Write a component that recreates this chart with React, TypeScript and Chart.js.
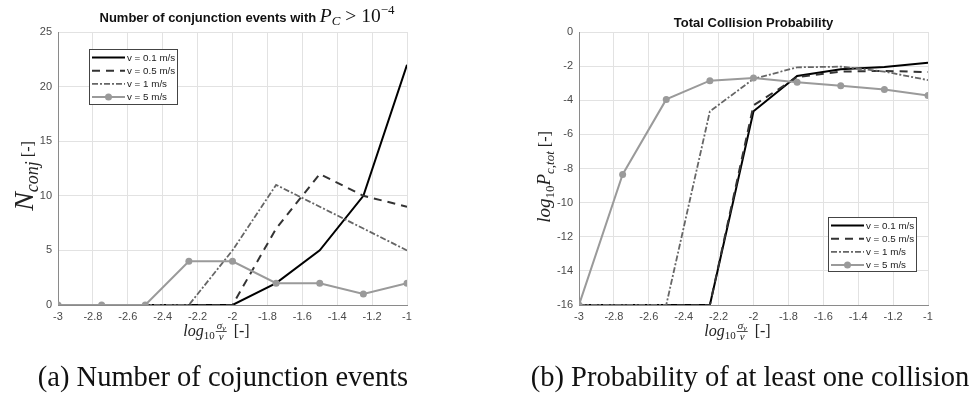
import React, { useEffect, useRef } from "react";
import { Chart, registerables } from "chart.js";
Chart.register(...registerables);

// ---------- data ----------
const xValues = [-3, -2.75, -2.5, -2.25, -2, -1.75, -1.5, -1.25, -1];
const seriesLabels = ["v = 0.1 m/s", "v = 0.5 m/s", "v = 1 m/s", "v = 5 m/s"];

const nConjV01 = [0, 0, 0, 0, 0, 2, 5, 10, 22];
const nConjV05 = [0, 0, 0, 0, 0, 7, 12, 10, 9];
const nConjV1 = [0, 0, 0, 0, 5, 11, 9, 7, 5];
const nConjV5 = [0, 0, 0, 4, 4, 2, 2, 1, 2];

const pTotV01 = [-16, -16, -16, -16, -4.65, -2.58, -2.18, -2.05, -1.8];
const pTotV05 = [-16, -16, -16, -16, -4.3, -2.65, -2.32, -2.28, -2.35];
const pTotV1 = [-16, -16, -16, -4.65, -2.75, -2.07, -2.03, -2.32, -2.82];
const pTotV5 = [-16, -8.35, -3.95, -2.85, -2.7, -2.95, -3.15, -3.37, -3.72];

const xTickMin = -3;
const xTickMax = -1;
const xTickStep = 0.2;
const leftYTicks = { min: 0, max: 25, step: 5 };
const rightYTicks = { min: -16, max: 0, step: 2 };

const captionA = "(a) Number of cojunction events";
const captionB = "(b) Probability of at least one collision";

// ---------- styles ----------
const lineColors = ["#000000", "#333333", "#666666", "#9a9a9a"];
const lineWidths = [2, 2, 1.8, 2];
const lineDashes: number[][] = [[], [8, 6], [6, 2, 2, 2], []];
const pointRadii = [0, 0, 0, 3.5];

const CW = 486;
const CH = 399;
const SERIF = '"Liberation Serif", "DejaVu Serif", serif';
const SANS = '"Liberation Sans", Arial, sans-serif';

type Seg = { t: string; f: string; dy?: number };

function segWidth(ctx: CanvasRenderingContext2D, segs: Seg[]) {
  let w = 0;
  for (const s of segs) {
    ctx.font = s.f;
    w += ctx.measureText(s.t).width;
  }
  return w;
}
function drawSegs(ctx: CanvasRenderingContext2D, segs: Seg[], x: number, y: number) {
  let cx = x;
  for (const s of segs) {
    ctx.font = s.f;
    ctx.fillText(s.t, cx, y + (s.dy || 0));
    cx += ctx.measureText(s.t).width;
  }
  return cx;
}

function drawXTitle(ctx: CanvasRenderingContext2D, cx: number, baseline: number) {
  const pre: Seg[] = [
    { t: "log", f: `italic 16px ${SERIF}` },
    { t: "10", f: `11px ${SERIF}`, dy: 3 },
  ];
  const num: Seg[] = [
    { t: "σ", f: `italic 11px ${SERIF}` },
    { t: "v", f: `italic 8px ${SERIF}`, dy: 2 },
  ];
  const den: Seg[] = [{ t: "v", f: `italic 11px ${SERIF}` }];
  const post: Seg[] = [{ t: "[-]", f: `16px ${SERIF}` }];
  const wPre = segWidth(ctx, pre);
  const wNum = segWidth(ctx, num);
  const wDen = segWidth(ctx, den);
  const barW = Math.max(wNum, wDen) + 2;
  const gap = 7;
  const wPost = segWidth(ctx, post);
  const total = wPre + 1 + barW + gap + wPost;
  let x = cx - total / 2;
  ctx.fillStyle = "#222";
  ctx.textBaseline = "alphabetic";
  ctx.textAlign = "left";
  x = drawSegs(ctx, pre, x, baseline) + 1;
  const barY = baseline - 4.5;
  ctx.strokeStyle = "#222";
  ctx.lineWidth = 0.8;
  ctx.setLineDash([]);
  ctx.beginPath();
  ctx.moveTo(x, barY);
  ctx.lineTo(x + barW, barY);
  ctx.stroke();
  drawSegs(ctx, num, x + (barW - wNum) / 2, barY - 2.5);
  drawSegs(ctx, den, x + (barW - wDen) / 2, barY + 8.5);
  x += barW + gap;
  drawSegs(ctx, post, x, baseline);
}

function drawRotated(ctx: CanvasRenderingContext2D, segs: Seg[], bx: number, cy: number) {
  ctx.save();
  ctx.translate(bx, cy);
  ctx.rotate(-Math.PI / 2);
  ctx.fillStyle = "#222";
  ctx.textBaseline = "alphabetic";
  ctx.textAlign = "left";
  const w = segWidth(ctx, segs);
  drawSegs(ctx, segs, -w / 2, 0);
  ctx.restore();
}

function makeLegendPlugin(box: { x: number; y: number; w: number; h: number }) {
  return {
    id: "customLegend",
    afterDatasetsDraw(chart: any) {
      const ctx: CanvasRenderingContext2D = chart.ctx;
      ctx.save();
      ctx.fillStyle = "#ffffff";
      ctx.fillRect(box.x, box.y, box.w, box.h);
      ctx.strokeStyle = "#444";
      ctx.lineWidth = 1;
      ctx.setLineDash([]);
      ctx.strokeRect(box.x + 0.5, box.y + 0.5, box.w, box.h);
      chart.data.datasets.forEach((ds: any, i: number) => {
        const ry = box.y + 8.5 + i * 13.2;
        ctx.strokeStyle = ds.borderColor;
        ctx.lineWidth = ds.borderWidth;
        ctx.setLineDash(ds.borderDash || []);
        ctx.beginPath();
        ctx.moveTo(box.x + 3, ry);
        ctx.lineTo(box.x + 36, ry);
        ctx.stroke();
        ctx.setLineDash([]);
        if (ds.pointRadius > 0) {
          ctx.fillStyle = ds.borderColor;
          ctx.beginPath();
          ctx.arc(box.x + 19.5, ry, ds.pointRadius, 0, Math.PI * 2);
          ctx.fill();
        }
        ctx.fillStyle = "#222";
        ctx.font = `9.8px ${SANS}`;
        ctx.textBaseline = "middle";
        ctx.textAlign = "left";
        ctx.fillText(ds.label, box.x + 38, ry + 0.5);
      });
      ctx.restore();
    },
  };
}

function buildDatasets(series: number[][]) {
  return series.map((vals, i) => ({
    label: seriesLabels[i],
    data: vals.map((v, j) => ({ x: xValues[j], y: v })),
    borderColor: lineColors[i],
    backgroundColor: lineColors[i],
    borderWidth: lineWidths[i],
    borderDash: lineDashes[i],
    pointRadius: pointRadii[i],
    pointBackgroundColor: lineColors[i],
    pointBorderWidth: 0,
    pointHoverRadius: pointRadii[i],
    tension: 0,
    fill: false,
    order: series.length - i,
  }));
}

function makeConfig(
  series: number[][],
  yT: { min: number; max: number; step: number },
  yAxisWidth: number,
  rightPad: number,
  plugins: any[]
): any {
  const tickFont = { family: "Liberation Sans", size: 11 };
  return {
    type: "line",
    data: { datasets: buildDatasets(series) },
    options: {
      animation: false,
      responsive: false,
      events: [],
      layout: { padding: { left: 0, right: rightPad, top: 32, bottom: 0 } },
      plugins: { legend: { display: false }, tooltip: { enabled: false }, title: { display: false } },
      scales: {
        x: {
          type: "linear",
          min: xTickMin,
          max: xTickMax,
          ticks: {
            stepSize: xTickStep,
            font: tickFont,
            color: "#4a4a4a",
            padding: 5,
            maxRotation: 0,
            autoSkip: false,
            callback: (v: number) => String(Number(v.toFixed(1))),
          },
          grid: { color: "#e2e2e2", drawTicks: false },
          border: { color: "#8a8a8a", width: 1 },
          afterFit: (s: any) => {
            s.height = CH - 305;
          },
        },
        y: {
          type: "linear",
          min: yT.min,
          max: yT.max,
          ticks: { stepSize: yT.step, font: tickFont, color: "#4a4a4a", padding: 6 },
          grid: { color: "#e2e2e2", drawTicks: false },
          border: { color: "#8a8a8a", width: 1 },
          afterFit: (s: any) => {
            s.width = yAxisWidth;
          },
        },
      },
    },
    plugins,
  };
}

function ChartCanvas({ config, left }: { config: () => any; left: number }) {
  const ref = useRef<HTMLCanvasElement | null>(null);
  useEffect(() => {
    if (!ref.current) return;
    const chart = new Chart(ref.current, config());
    return () => chart.destroy();
  }, []);
  return (
    <canvas
      ref={ref}
      width={CW}
      height={CH}
      style={{ position: "absolute", left, top: 0, width: CW, height: CH }}
    />
  );
}

const leftTitlesPlugin = {
  id: "leftTitles",
  afterDraw(chart: any) {
    const ctx: CanvasRenderingContext2D = chart.ctx;
    const a = chart.chartArea;
    ctx.save();
    const segs: Seg[] = [
      { t: "Number of conjunction events with ", f: `bold 13px ${SANS}` },
      { t: "P", f: `italic 19.5px ${SERIF}` },
      { t: "C", f: `italic 13px ${SERIF}`, dy: 3 },
      { t: " > 10", f: `19.5px ${SERIF}` },
      { t: "−4", f: `13px ${SERIF}`, dy: -8 },
    ];
    ctx.fillStyle = "#111";
    ctx.textBaseline = "alphabetic";
    ctx.textAlign = "left";
    const w = segWidth(ctx, segs);
    drawSegs(ctx, segs, 247 - w / 2, 21.5);
    drawXTitle(ctx, (a.left + a.right) / 2 - 16, 336);
    drawRotated(
      ctx,
      [
        { t: "N", f: `italic 28px ${SERIF}` },
        { t: "conj", f: `italic 18px ${SERIF}`, dy: 5 },
        { t: " [-]", f: `16px ${SERIF}` },
      ],
      33,
      176
    );
    ctx.restore();
  },
};

const rightTitlesPlugin = {
  id: "rightTitles",
  afterDraw(chart: any) {
    const ctx: CanvasRenderingContext2D = chart.ctx;
    const a = chart.chartArea;
    ctx.save();
    ctx.fillStyle = "#111";
    ctx.font = `bold 13px ${SANS}`;
    ctx.textAlign = "center";
    ctx.textBaseline = "alphabetic";
    ctx.fillText("Total Collision Probability", (a.left + a.right) / 2, 26.5);
    drawXTitle(ctx, (a.left + a.right) / 2 - 16, 336);
    drawRotated(
      ctx,
      [
        { t: "log", f: `italic 19px ${SERIF}` },
        { t: "10", f: `13px ${SERIF}`, dy: 4 },
        { t: "P", f: `italic 19px ${SERIF}` },
        { t: "c,tot", f: `italic 13px ${SERIF}`, dy: 4 },
        { t: " [-]", f: `16px ${SERIF}` },
      ],
      64,
      177
    );
    ctx.restore();
  },
};

export default function App() {
  useEffect(() => {
    document.body.style.margin = "0";
  }, []);
  const leftConfig = () =>
    makeConfig(
      [nConjV01, nConjV05, nConjV1, nConjV5],
      leftYTicks,
      58,
      CW - 407,
      [makeLegendPlugin({ x: 89, y: 49, w: 88, h: 55 }), leftTitlesPlugin]
    );
  const rightConfig = () =>
    makeConfig(
      [pTotV01, pTotV05, pTotV1, pTotV5],
      rightYTicks,
      579 - CW,
      972 - 928,
      [makeLegendPlugin({ x: 828 - CW, y: 217, w: 88, h: 54 }), rightTitlesPlugin]
    );
  const capStyle: React.CSSProperties = {
    position: "absolute",
    top: 361,
    fontFamily: SERIF,
    fontSize: 28.5,
    color: "#111",
    whiteSpace: "nowrap",
    transform: "translateX(-50%)",
    lineHeight: "32px",
  };
  return (
    <div style={{ position: "fixed", left: 0, top: 0, width: 972, height: 399, background: "#fff", overflow: "hidden" }}>
      <ChartCanvas config={leftConfig} left={0} />
      <ChartCanvas config={rightConfig} left={CW} />
      <div style={{ ...capStyle, left: 223 }}>{captionA}</div>
      <div style={{ ...capStyle, left: 750 }}>{captionB}</div>
    </div>
  );
}
